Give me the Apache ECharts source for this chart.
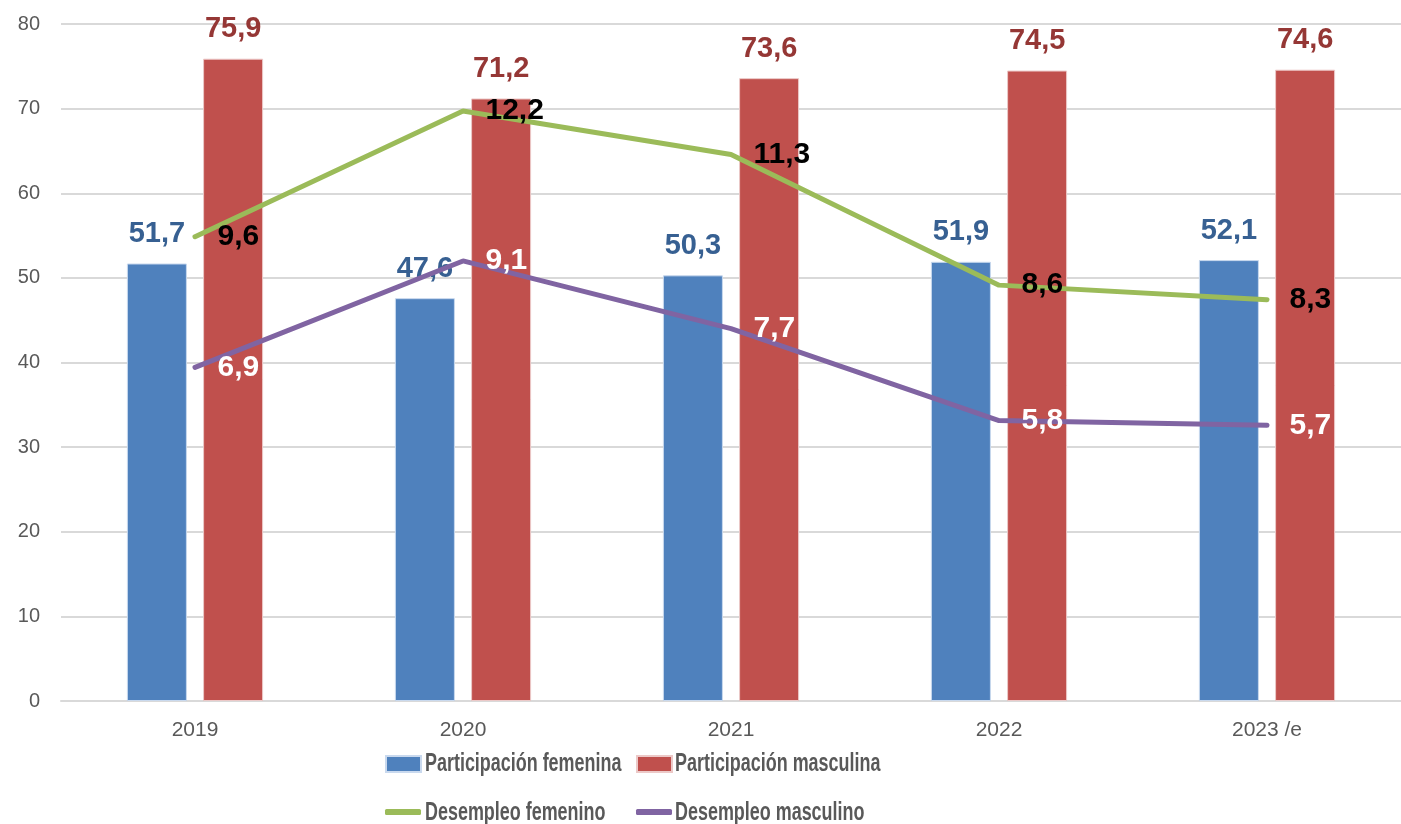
<!DOCTYPE html>
<html>
<head>
<meta charset="utf-8">
<script src="https://cdn.jsdelivr.net/npm/echarts@6/dist/echarts.min.js"></script>
<style>html,body{margin:0;padding:0;background:#fff;}#c{width:1401px;height:824px;}</style>
</head>
<body>
<div id="c"></div>
<script>
var categories = ['2019', '2020', '2021', '2022', '2023 /e'];
var partFem = [51.7, 47.6, 50.3, 51.9, 52.1];
var partMas = [75.9, 71.2, 73.6, 74.5, 74.6];
var desFem = [9.6, 12.2, 11.3, 8.6, 8.3];
var desMas = [6.9, 9.1, 7.7, 5.8, 5.7];
var yTicks = [0, 10, 20, 30, 40, 50, 60, 70, 80];
var seriesNames = ['Participación femenina', 'Participación masculina', 'Desempleo femenino', 'Desempleo masculino'];

var fmt = function (p) { return String(p.value.toFixed(1)).replace('.', ','); };
var base = "'Liberation Sans', Arial, sans-serif";
var legendFont = { fontFamily: base, fontWeight: 'bold', fontSize: 26, fill: '#595959' };
var noText = function () { return ''; };

function legendText(name, x, y) {
  return { type: 'text', left: x, top: y, scaleX: 0.69, style: Object.assign({ text: name }, legendFont) };
}

var chart = echarts.init(document.getElementById('c'));
chart.setOption({
  animation: false,
  grid: { left: 61, right: 0, top: 24, bottom: 123 },
  xAxis: {
    type: 'category', data: categories,
    axisLine: { lineStyle: { color: '#d9d9d9', width: 2 } },
    axisTick: { show: false },
    axisLabel: { color: '#595959', fontSize: 21, fontFamily: base, margin: 19 }
  },
  yAxis: [{
    type: 'value', min: yTicks[0], max: yTicks[yTicks.length - 1], interval: 10,
    axisLine: { show: false }, axisTick: { show: false },
    splitLine: { lineStyle: { color: '#d9d9d9', width: 2 } },
    axisLabel: { color: '#595959', fontSize: 20, fontFamily: base, margin: 21 }
  }, {
    type: 'value', min: 0, max: 14, show: false, splitLine: { show: false }
  }],
  legend: [
    { data: [seriesNames[0]], left: 380, top: 750, itemWidth: 35, itemHeight: 16, icon: 'rect', formatter: noText, selectedMode: false },
    { data: [seriesNames[1]], left: 631, top: 750, itemWidth: 35, itemHeight: 16, icon: 'rect', formatter: noText, selectedMode: false },
    { data: [seriesNames[2]], left: 380, top: 804, itemWidth: 36, itemHeight: 6, icon: 'roundRect', formatter: noText, selectedMode: false, itemStyle: { color: '#9BBB59' } },
    { data: [seriesNames[3]], left: 631, top: 804, itemWidth: 36, itemHeight: 6, icon: 'roundRect', formatter: noText, selectedMode: false, itemStyle: { color: '#8064A2' } }
  ],
  graphic: [
    legendText(seriesNames[0], 425, 751),
    legendText(seriesNames[1], 675, 751),
    legendText(seriesNames[2], 425, 800),
    legendText(seriesNames[3], 675, 800)
  ],
  series: [
    {
      name: seriesNames[0], type: 'bar', data: partFem, barWidth: 60, barGap: '27%',
      itemStyle: { color: '#4F81BD', borderColor: '#c9d9ee', borderWidth: 1 },
      label: { show: true, position: 'top', distance: 15, formatter: fmt, color: '#376092', fontSize: 29, fontWeight: 'bold', fontFamily: base }
    },
    {
      name: seriesNames[1], type: 'bar', data: partMas, barWidth: 60,
      itemStyle: { color: '#C0504D', borderColor: '#ecc9c8', borderWidth: 1 },
      label: { show: true, position: 'top', distance: 15, formatter: fmt, color: '#953735', fontSize: 29, fontWeight: 'bold', fontFamily: base }
    },
    {
      name: seriesNames[2], type: 'line', yAxisIndex: 1, data: desFem,
      symbol: 'circle', symbolSize: 1, showSymbol: true,
      lineStyle: { color: '#9BBB59', width: 5, cap: 'round' }, itemStyle: { color: '#9BBB59' },
      label: { show: true, position: 'right', distance: 22, offset: [0, 5], formatter: fmt, color: '#000', fontSize: 30, fontWeight: 'bold', fontFamily: base },
      labelLayout: { hideOverlap: false }, z: 3
    },
    {
      name: seriesNames[3], type: 'line', yAxisIndex: 1, data: desMas,
      symbol: 'circle', symbolSize: 1, showSymbol: true,
      lineStyle: { color: '#8064A2', width: 5, cap: 'round' }, itemStyle: { color: '#8064A2' },
      label: { show: true, position: 'right', distance: 22, offset: [0, 5], formatter: fmt, color: '#fff', fontSize: 30, fontWeight: 'bold', fontFamily: base },
      labelLayout: { hideOverlap: false }, z: 3
    }
  ]
});
</script>
</body>
</html>
